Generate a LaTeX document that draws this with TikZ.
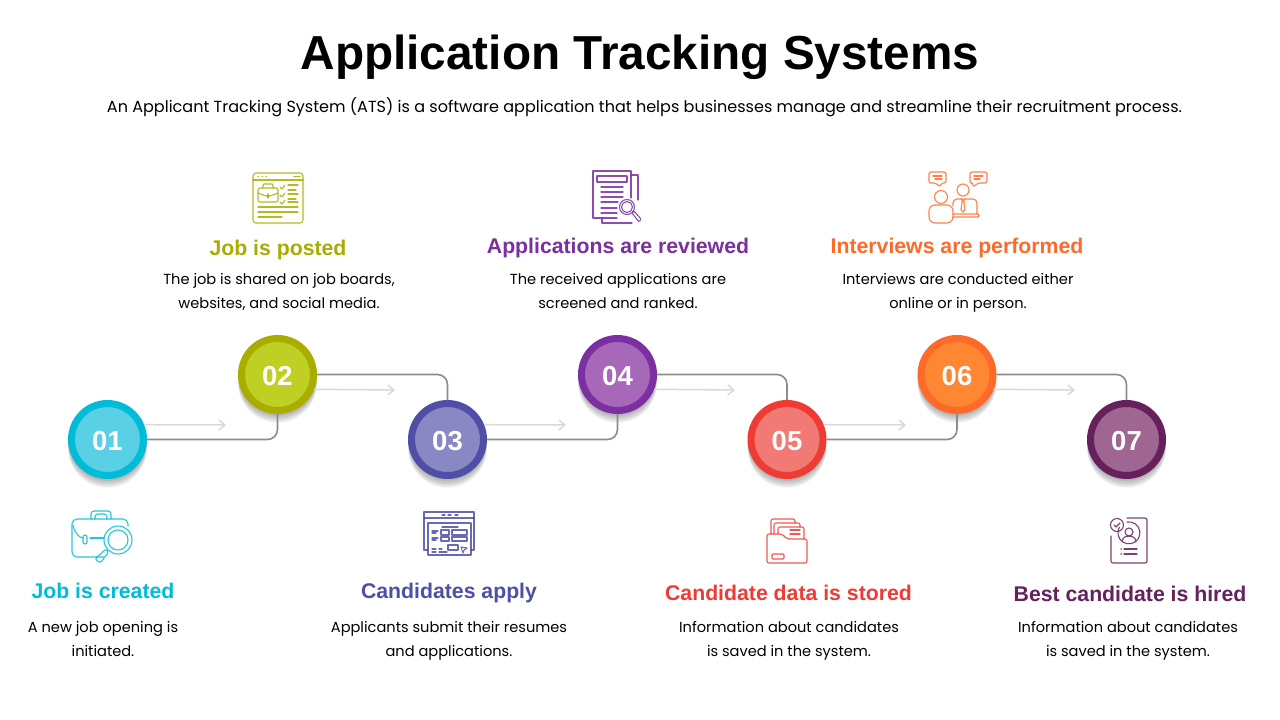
\documentclass[tikz,border=0pt]{standalone}
\usepackage{fontspec}
\setmainfont{Poppins}
\newfontfamily\headfont{Liberation Sans}
\usetikzlibrary{positioning,arrows.meta,shadows}
\definecolor{ringA}{HTML}{00BCD9}
\definecolor{fillA}{HTML}{5AD0E6}
\definecolor{ringB}{HTML}{A8AD00}
\definecolor{fillB}{HTML}{BFCF24}
\definecolor{ringC}{HTML}{4F4FA8}
\definecolor{fillC}{HTML}{8A88C4}
\definecolor{ringD}{HTML}{7B2FA0}
\definecolor{fillD}{HTML}{A868BA}
\definecolor{ringE}{HTML}{EE3B33}
\definecolor{fillE}{HTML}{F27A74}
\definecolor{ringF}{HTML}{FF6A2B}
\definecolor{fillF}{HTML}{FF8633}
\definecolor{ringG}{HTML}{66205E}
\definecolor{fillG}{HTML}{9E6690}
\begin{document}
\begin{tikzpicture}[
  x=1pt,y=-1pt,
  softshadow/.style={drop shadow={shadow xshift=0pt,shadow yshift=-#1,shadow scale=1.09,opacity=0.08,fill=black}},
  stepnode/.style n args={2}{circle,draw=#1,fill=#2,line width=7pt,minimum size=72pt,inner sep=0pt,
    text=white,text height=21pt,text depth=0pt,font=\headfont\bfseries\fontsize{27.5}{27.5}\selectfont,
    softshadow=8pt,softshadow=6pt,softshadow=4pt,softshadow=2pt},
  headnode/.style={font=\headfont\bfseries\fontsize{21.25}{26}\selectfont,inner sep=0pt,anchor=base},
  bodynode/.style={font=\fontsize{14.6}{24}\selectfont,align=center,inner sep=0pt,text=black},
  linkline/.style={draw=black!45,line width=1.6pt,rounded corners=10pt},
  hintline/.style={draw=black!15,line width=1.5pt,-{Straight Barb[length=6pt,width=10pt]}},
  iconline/.style={line width=1.1pt,line join=round,line cap=round,draw opacity=0.85},
  ]
  \useasboundingbox (0,0) rectangle (1280,720);
  \fill[white] (0,0) rectangle (1280,720);
  % title
  \node[font=\headfont\bfseries\fontsize{47.7}{50}\selectfont,inner sep=0pt,anchor=base] (title) at (640,69) {Application Tracking Systems};
  \node[font=\fontsize{16.04}{20}\selectfont,inner sep=0pt,anchor=base] (subtitle) at (644.5,112) {An Applicant Tracking System (ATS) is a software application that helps businesses manage and streamline their recruitment process.};
  % steps
  \node[stepnode={ringA}{fillA}] (stepA) at (107.5,439.5) {01};
  \node[stepnode={ringB}{fillB}] (stepB) at (277.5,374.5) {02};
  \node[stepnode={ringC}{fillC}] (stepC) at (447.5,439.5) {03};
  \node[stepnode={ringD}{fillD}] (stepD) at (617.5,374.5) {04};
  \node[stepnode={ringE}{fillE}] (stepE) at (787,439.5) {05};
  \node[stepnode={ringF}{fillF}] (stepF) at (957,374.5) {06};
  \node[stepnode={ringG}{fillG}] (stepG) at (1126.5,439.5) {07};
  % connectors
  \path[linkline]
  (stepA.east) -| (stepB.south)
  (stepB.east) -| (stepC.north)
  (stepC.east) -| (stepD.south)
  (stepD.east) -| (stepE.north)
  (stepE.east) -| (stepF.south)
  (stepF.east) -| (stepG.north);
  \coordinate (hintA) at (226,425);
  \coordinate (hintB) at (395,390);
  \coordinate (hintC) at (566,425);
  \coordinate (hintD) at (735,390);
  \coordinate (hintE) at (906,425);
  \coordinate (hintF) at (1075,390);
  \draw[hintline] (stepA.22) -- (hintA);
  \draw[hintline] (stepB.-22) -- (hintB);
  \draw[hintline] (stepC.22) -- (hintC);
  \draw[hintline] (stepD.-22) -- (hintD);
  \draw[hintline] (stepE.22) -- (hintE);
  \draw[hintline] (stepF.-22) -- (hintF);
  % labels
  \node[headnode,text=ringA] (headA) at (103,598) {Job is created};
  \node[bodynode,below=23.5pt of headA.base] (bodyA) {A new job opening is\\initiated.};
  \node[headnode,text=ringB] (headB) at (278,255) {Job is posted};
  \node[bodynode,below=18.5pt of headB.base,xshift=1pt] (bodyB) {The job is shared on job boards,\\websites, and social media.};
  \node[headnode,text=ringC] (headC) at (449,598) {Candidates apply};
  \node[bodynode,below=23.5pt of headC.base] (bodyC) {Applicants submit their resumes\\and applications.};
  \node[headnode,text=ringD] (headD) at (618,253) {Applications are reviewed};
  \node[bodynode,below=20.5pt of headD.base] (bodyD) {The received applications are\\screened and ranked.};
  \node[headnode,text=ringE] (headE) at (788.5,600) {Candidate data is stored};
  \node[bodynode,below=21.5pt of headE.base,xshift=0.5pt] (bodyE) {Information about candidates\\is saved in the system.};
  \node[headnode,text=ringF] (headF) at (957,253) {Interviews are performed};
  \node[bodynode,below=20.5pt of headF.base,xshift=1pt] (bodyF) {Interviews are conducted either\\online or in person.};
  \node[headnode,text=ringG] (headG) at (1130,601) {Best candidate is hired};
  \node[bodynode,below=20.5pt of headG.base,xshift=-2pt] (bodyG) {Information about candidates\\is saved in the system.};
  % icon 01
  \begin{scope}[iconline,draw=ringA]
    \draw[rounded corners=5pt] (104,557) -- (72,557) -- (72,519) -- (128,519) -- (128,526);
    \draw[rounded corners=3pt] (91,519) -- (91,511) -- (111,511) -- (111,519);
    \draw[rounded corners=3pt] (95,519) -- (95,514) -- (107,514) -- (107,519);
    \draw (73,525) .. controls (75,534) and (80,538) .. (83,538);
    \draw (90,538) -- (104,538);
    \draw[rounded corners=2pt] (83,535) rectangle (87,544);
    \draw (118,540) circle (14);
    \draw (118,540) circle (10);
    \draw[rounded corners=2pt] (106,549) -- (109,552) -- (100,563) -- (95,559) -- cycle;
  \end{scope}
  % icon 02
  \begin{scope}[iconline,draw=ringB]
    \draw[rounded corners=3pt] (253,173) rectangle (303,223);
    \draw (253,180) -- (303,180);
    \draw (258,176.5) -- (258.5,176.5) (262,176.5) -- (262.5,176.5) (266,176.5) -- (266.5,176.5);
    \draw[line width=1.6pt] (294,176.5) -- (300,176.5);
    \draw[rounded corners=2pt] (258,188) rectangle (278,202);
    \draw[rounded corners=1pt] (263,188) -- (263,184) -- (273,184) -- (273,188);
    \draw (258,193) -- (266,196) -- (270,196) -- (278,193);
    \draw (268,194) -- (268,198);
    \draw (280,187) -- (282,189) -- (285,185);
    \draw (280,195) -- (282,197) -- (285,193);
    \draw (280,202) -- (282,204) -- (285,200);
    \draw (288,185) -- (298,185) (288,190) -- (296,190) (288,194) -- (298,194) (288,199) -- (296,199) (288,202) -- (298,202);
    \draw (258,207) -- (298,207) (258,212) -- (298,212) (258,217) -- (282,217);
  \end{scope}
  % icon 03
  \begin{scope}[iconline,draw=ringC]
    \draw (428,550) -- (424,550) -- (424,512) -- (474,512) -- (474,550) -- (471,550);
    \draw (424,518) -- (474,518);
    \draw (442,515) -- (445,515) (448,515) -- (451,515) (455,515) -- (458,515);
    \draw (428,523) rectangle (471,555);
    \draw (442,527) -- (458,527);
    \draw (432,531) -- (438,531) (432,533) -- (436,533) (432,538) -- (438,538) (432,540) -- (436,540);
    \draw (441,530) rectangle (449,535) (452,530) rectangle (467,535);
    \draw (441,537) rectangle (449,541) (452,537) rectangle (467,541);
    \draw (448,545) rectangle (458,550);
    \draw (461,547) -- (467,548) -- (464,550) -- (463,553) -- cycle;
    \draw (432,549) -- (436,549) (439,549) -- (442,549) (432,552) -- (436,552) (439,552) -- (447,552);
  \end{scope}
  % icon 04
  \begin{scope}[iconline,draw=ringD]
    \draw (617,218) -- (593,218) -- (593,171) -- (631,171) -- (631,198);
    \draw (631,175) -- (638,175) -- (638,200);
    \draw (602,218) -- (602,223) -- (632,223);
    \draw (597,176) rectangle (627,182);
    \draw (601,187) -- (623,187) (601,192) -- (623,192) (601,197) -- (623,197) (601,202) -- (618,202) (601,208) -- (617,208) (601,213) -- (617,213);
    \draw (627,207) circle (7.5);
    \draw (627,207) circle (5.5);
    \draw[rounded corners=1pt] (632,213) -- (634,211) -- (641,219) -- (639,222) -- cycle;
  \end{scope}
  % icon 05
  \begin{scope}[iconline,draw=ringE]
    \draw[rounded corners=2pt] (771,534) -- (771,519) -- (795,519) -- (795,523);
    \draw[rounded corners=2pt] (774,534) -- (774,523) -- (800,523) -- (800,527);
    \draw[rounded corners=2pt] (778,534) -- (778,527) -- (804,527) -- (804,539);
    \draw (790,530) -- (800,530) (790,534) -- (800,534);
    \draw[rounded corners=2pt] (767,534) -- (782,534) -- (787,539) -- (807,539) -- (807,563) -- (767,563) -- cycle;
    \draw[rounded corners=1pt] (772,554) rectangle (784,559);
  \end{scope}
  % icon 06
  \begin{scope}[iconline,draw=ringF]
    \draw[rounded corners=2pt] (929,172) -- (946,172) -- (946,183) -- (941,183) -- (940,187) -- (936,183) -- (929,183) -- cycle;
    \draw (933,176) -- (942,176) (935,179) -- (942,179);
    \draw[rounded corners=2pt] (970,172) -- (987,172) -- (987,183) -- (978,183) -- (973,187) -- (973,183) -- (970,183) -- cycle;
    \draw (974,176) -- (983,176) (974,179) -- (980,179);
    \draw (941,197) circle (6.5);
    \draw[rounded corners=6pt] (929,223) -- (929,205) -- (953,205) -- (953,223) -- cycle;
    \draw (963,190) circle (6);
    \draw[rounded corners=4pt] (953,206) -- (953,199) -- (977,199) -- (977,214);
    \draw[rounded corners=1pt] (953,214) -- (979,214) -- (979,217) -- (953,217);
    \draw (961,199) -- (963,202) -- (965,199) (962,202) -- (961,210) -- (963,212) -- (965,210) -- (964,202);
  \end{scope}
  % icon 07
  \begin{scope}[iconline,draw=ringG]
    \draw[rounded corners=2pt] (1127,518) -- (1147,518) -- (1147,563) -- (1111,563) -- (1111,536);
    \draw (1117,525) circle (6.5);
    \draw (1114,525) -- (1116,527) -- (1120,523);
    \draw (1127,522) arc (-100:210:11);
    \draw (1129,532) circle (4);
    \draw (1122,541) .. controls (1123,537) and (1126,536) .. (1129,536) .. controls (1132,536) and (1135,537) .. (1136,541);
    \draw (1124,549) -- (1137,549) (1124,554) -- (1137,554);
    \draw (1121,549) -- (1121.3,549) (1121,554) -- (1121.3,554);
  \end{scope}
\end{tikzpicture}
\end{document}
